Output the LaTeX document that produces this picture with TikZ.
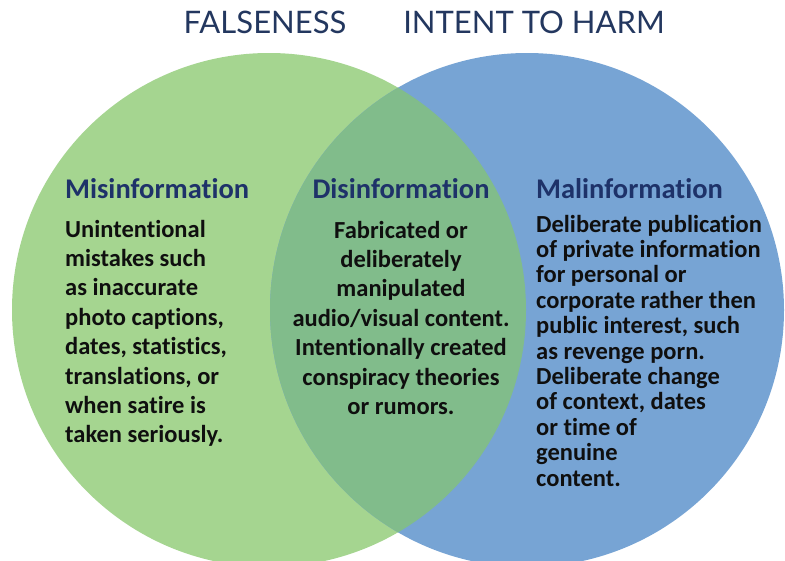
\documentclass[tikz,border=0pt]{standalone}
\usepackage{fontspec}
\setmainfont{Carlito}[Ligatures={NoCommon,NoRequired,NoContextual}]
\newfontfamily\titlefont{Lato}[Ligatures={NoCommon}]
\definecolor{greenc}{RGB}{165,213,144}
\definecolor{bluec}{RGB}{119,164,212}
\definecolor{overc}{RGB}{129,188,139}
\definecolor{navyc}{RGB}{30,50,105}
\definecolor{titlec}{RGB}{35,55,95}
\definecolor{bodyc}{RGB}{15,15,15}
\begin{document}
\begin{tikzpicture}[x=1pt,y=-1pt,
  titlestyle/.style={inner sep=0pt, anchor=base, font=\titlefont\fontsize{31}{34}\selectfont, text=titlec},
  headstyle/.style={inner sep=0pt, font=\fontsize{28.5}{32}\bfseries\selectfont, text=navyc},
  bodystyle/.style={inner sep=0pt, font=\fontsize{24.5}{29}\bfseries\selectfont, text=bodyc}]
\useasboundingbox (0,0) rectangle (785,560);
\clip (0,0) rectangle (785,560);
\fill[white] (0,0) rectangle (785,560);
\fill[greenc] (269,310) circle[radius=257pt];
\fill[bluec] (527,310) circle[radius=257pt];
\begin{scope}
  \clip (269,310) circle[radius=257pt];
  \fill[overc] (527,310) circle[radius=257pt];
\end{scope}
% titles
\node[titlestyle] (falseness) at (265,33) {FALSENESS};
\node[titlestyle] (intent) at (534,33) {INTENT TO HARM};
% headings
\node[headstyle, anchor=base west] (mishead) at (65,198) {Misinformation};
\node[headstyle, anchor=base] (dishead) at (401,198) {Disinformation};
\node[headstyle, anchor=base west] (malhead) at (536,198) {Malinformation};
% left body
\foreach \t [count=\i from 0] in {Unintentional, mistakes such, as inaccurate, photo captions{,}, dates{,} statistics{,}, translations{,} or, when satire is, taken seriously.}
  \node[bodystyle, anchor=base west] (mis\i) at (65,{237+29.4*\i}) {\t};
% middle body
\foreach \t [count=\i from 0] in {Fabricated or, deliberately, manipulated, audio/visual content., Intentionally created, conspiracy theories, or rumors.}
  \node[bodystyle, anchor=base] (dis\i) at (401,{238+29.4*\i}) {\t};
% right body
\foreach \t [count=\i from 0] in {Deliberate publication, of private information, for personal or, corporate rather then, public interest{,} such, as revenge porn., Deliberate change, of context{,} dates, or time of, genuine, content.}
  \node[bodystyle, anchor=base west] (mal\i) at (536,{232+25.4*\i}) {\t};
\end{tikzpicture}
\end{document}
